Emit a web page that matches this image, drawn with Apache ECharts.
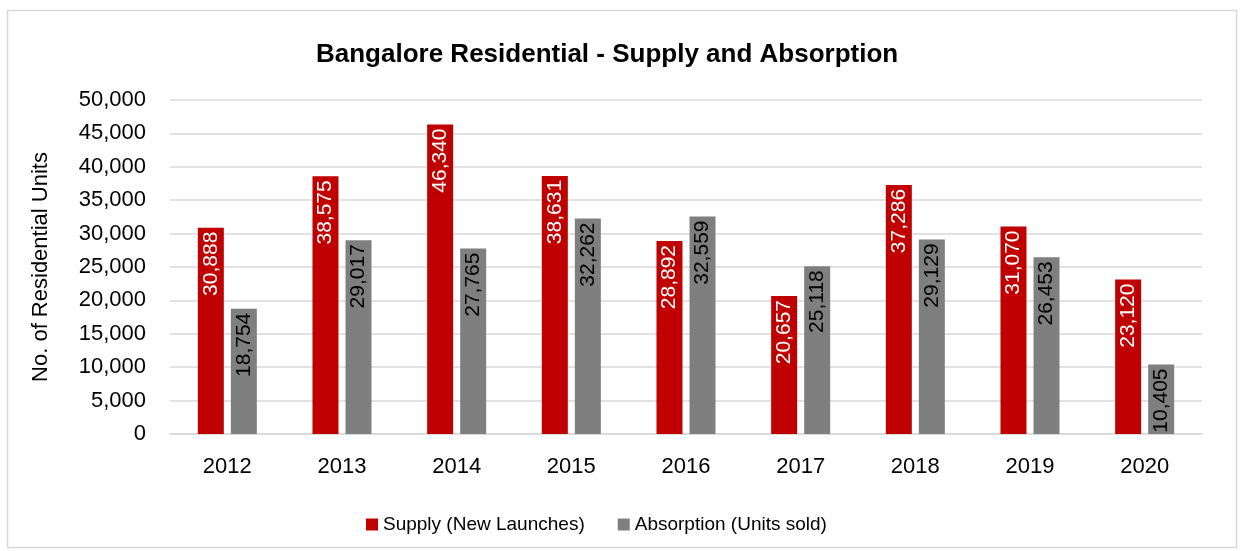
<!DOCTYPE html>
<html>
<head>
<meta charset="utf-8">
<script src="https://cdn.jsdelivr.net/npm/echarts@6/dist/echarts.min.js"></script>
<style>
  html, body { margin: 0; padding: 0; background: #fff; }
  #chart { width: 1244px; height: 551px; }
</style>
</head>
<body>
<div id="chart"></div>
<script>
const years = ["2012", "2013", "2014", "2015", "2016", "2017", "2018", "2019", "2020"];
const supply = [30888, 38575, 46340, 38631, 28892, 20657, 37286, 31070, 23120];
const absorption = [18754, 29017, 27765, 32262, 32559, 25118, 29129, 26453, 10405];
const yTicks = { min: 0, max: 50000, interval: 5000 };

const font = "'Liberation Sans', Arial, sans-serif";
const fmt = (v) => Number(v).toLocaleString("en-US");

const myChart = echarts.init(document.getElementById("chart"));

// 柱内竖排数值标签
const barLabel = (color) => ({
  show: true,
  position: "insideTop",
  rotate: 90,
  align: "right",
  verticalAlign: "middle",
  distance: 4,
  color: color,
  fontFamily: font,
  fontSize: 21,
  formatter: (p) => fmt(p.value),
});

const option = {
  animation: false,
  textStyle: { fontFamily: font },
  graphic: [
    {
      type: "rect",
      shape: { x: 7.5, y: 10.5, width: 1229, height: 537 },
      style: { fill: "none", stroke: "#d9d9d9", lineWidth: 1.5 },
      silent: true,
    },
  ],
  title: {
    text: "Bangalore Residential - Supply and Absorption",
    left: 311,
    top: 37,
    textStyle: { fontFamily: font, fontSize: 26, fontWeight: "bold", color: "#000" },
  },
  legend: {
    data: ["Supply (New Launches)", "Absorption (Units sold)"],
    left: 361,
    top: 510,
    icon: "rect",
    itemWidth: 12,
    itemHeight: 12,
    itemGap: 33,
    textStyle: { fontFamily: font, fontSize: 19, color: "#000" },
  },
  grid: {
    left: 170,
    right: 42,
    top: 100,
    bottom: 117,
    containLabel: false,
  },
  xAxis: {
    type: "category",
    data: years,
    axisTick: { show: false },
    axisLine: { lineStyle: { color: "#d9d9d9", width: 1.5 } },
    axisLabel: { color: "#000", fontSize: 22, fontFamily: font, margin: 22 },
  },
  yAxis: {
    type: "value",
    min: yTicks.min,
    max: yTicks.max,
    interval: yTicks.interval,
    name: "No. of Residential Units",
    nameLocation: "middle",
    nameGap: 118,
    nameTextStyle: { color: "#000", fontSize: 22, fontFamily: font },
    axisLine: { show: false },
    axisTick: { show: false },
    splitLine: { lineStyle: { color: "#d9d9d9", width: 1.5 } },
    axisLabel: { color: "#000", fontSize: 22, fontFamily: font, margin: 24, formatter: (v) => fmt(v) },
  },
  series: [
    {
      name: "Supply (New Launches)",
      type: "bar",
      data: supply,
      barWidth: 26,
      barGap: "27%",
      itemStyle: { color: "#C00000" },
      label: barLabel("#fff"),
    },
    {
      name: "Absorption (Units sold)",
      type: "bar",
      data: absorption,
      barWidth: 26,
      itemStyle: { color: "#7F7F7F" },
      label: barLabel("#000"),
    },
  ],
};

myChart.setOption(option, true);
window.addEventListener("resize", () => {
  myChart.resize();
});
</script>
</body>
</html>
